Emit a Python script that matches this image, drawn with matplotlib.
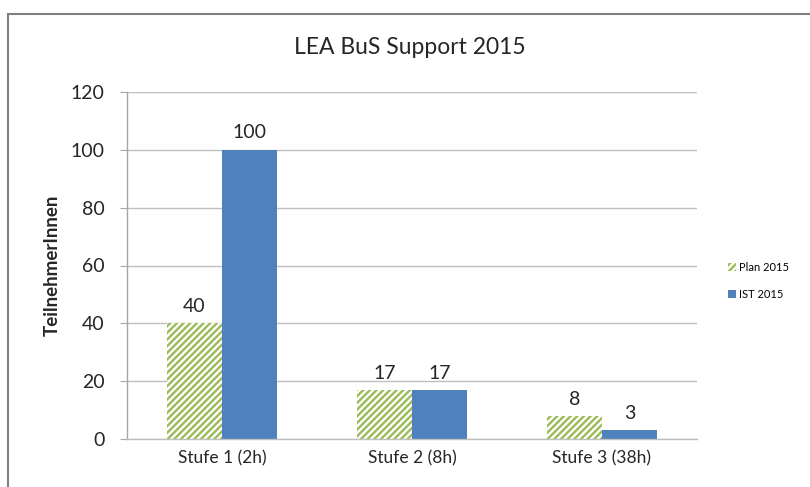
import matplotlib
matplotlib.use("Agg")
import matplotlib.pyplot as plt
import matplotlib.patches as mpatches
import numpy as np

categories = ["Stufe 1 (2h)", "Stufe 2 (8h)", "Stufe 3 (38h)"]
plan_2015 = [40, 17, 8]
ist_2015 = [100, 17, 3]
yticks = [0, 20, 40, 60, 80, 100, 120]

plt.rcParams['font.family'] = ['Lato', 'DejaVu Sans']
plt.rcParams['hatch.linewidth'] = 1.7

GREEN = '#9BBB59'
BLUE = '#4F81BD'
GRID = '#BFBFBF'
TXT = '#262626'

fig = plt.figure(figsize=(8.1, 4.87), dpi=100)
ax = fig.add_axes([127/810, 1-439/487, (697-127)/810, (439-92)/487])

x = np.arange(len(categories))
w = 0.29
b1 = ax.bar(x - w/2, plan_2015, w, facecolor='white', edgecolor=GREEN, hatch='/////', linewidth=0, label='Plan 2015')
b2 = ax.bar(x + w/2, ist_2015, w, color=BLUE, linewidth=0, label='IST 2015')

for rect, v in zip(list(b1) + list(b2), plan_2015 + ist_2015):
    ax.annotate(str(v), (rect.get_x() + rect.get_width()/2, v), xytext=(0, 6),
                textcoords='offset points', ha='center', va='bottom', fontsize=14, color=TXT)

ax.set_xlim(-0.5, 2.5)
ax.set_ylim(0, 120)
ax.set_yticks(yticks)
ax.set_xticks(x)
ax.set_xticklabels(categories, fontsize=12.5, color=TXT)
ax.tick_params(axis='y', labelsize=14, labelcolor=TXT, length=5, color='#A6A6A6', pad=11)
ax.tick_params(axis='x', length=0, pad=8)
ax.yaxis.grid(True, color=GRID, linewidth=1)
ax.set_axisbelow(True)
for s in ['top', 'right']:
    ax.spines[s].set_visible(False)
ax.spines['left'].set_color('#A6A6A6')
ax.spines['bottom'].set_color(GRID)
ax.spines['left'].set_linewidth(1)
ax.spines['bottom'].set_linewidth(1)

ax.set_ylabel('TeilnehmerInnen', fontsize=13.5, fontweight='bold', color=TXT, labelpad=7)
fig.text(410/810, 1-48/487, 'LEA BuS Support 2015', ha='center', va='center', fontsize=16.5, color=TXT)

leg = fig.legend(handles=[b1, b2], loc='center left', bbox_to_anchor=(718/810, 1-281/487),
                 frameon=False, fontsize=8, handlelength=0.7, handleheight=0.7,
                 handletextpad=0.3, labelspacing=1.4)

border = mpatches.Rectangle((8/810, -0.05), 1.0, 1-14/487 + 0.05, transform=fig.transFigure,
                            fill=False, edgecolor='#7F7F7F', linewidth=1.5, clip_on=False)
fig.patches.append(border)

fig.savefig('out.png', dpi=100)
